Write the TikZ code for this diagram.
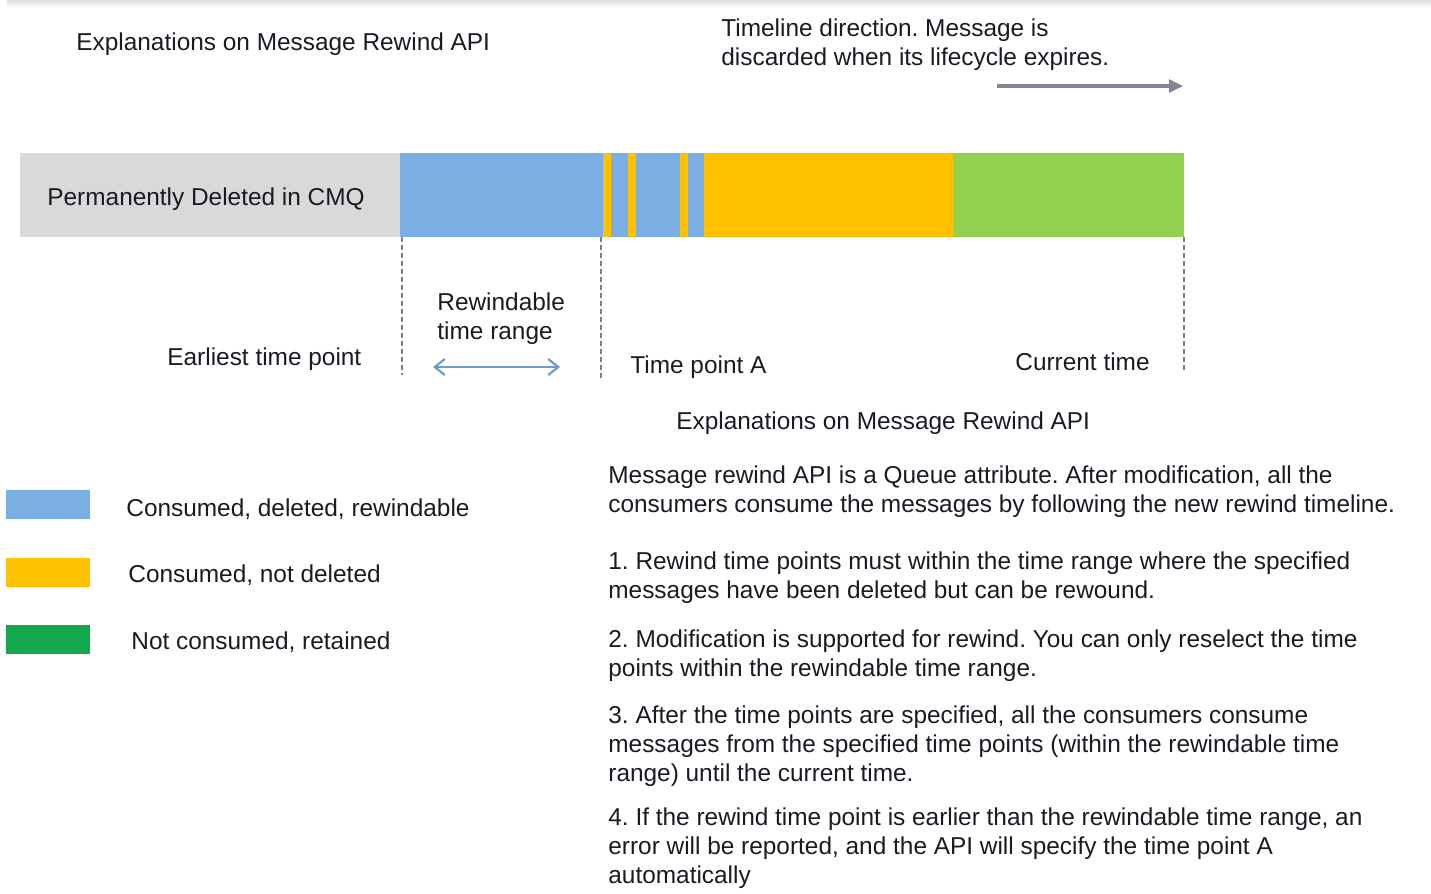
\documentclass[tikz,border=0pt]{standalone}
\usepackage{fontspec}
\setmainfont{Liberation Sans}
\usetikzlibrary{arrows.meta}
\frenchspacing

\definecolor{rwblue}{HTML}{7BAFE4}
\definecolor{rworange}{HTML}{FFC000}
\definecolor{rwgreen}{HTML}{92D050}
\definecolor{keepgreen}{HTML}{12A84B}
\definecolor{cmqgray}{HTML}{D9D9D9}
\definecolor{txt}{HTML}{1A1A24}
\definecolor{flowgray}{HTML}{8A8396}
\definecolor{rangeblue}{HTML}{6C9CCB}
\definecolor{dashgray}{HTML}{7F7F7F}

\tikzset{
    lbl/.style={anchor=base west, inner sep=0pt, text=txt, align=left,
        font=\fontsize{12.2}{14.35}\selectfont},
    marker/.style={draw=dashgray, line width=1.2pt, dash pattern=on 2.5pt off 1.5pt},
}

\begin{document}
\begin{tikzpicture}[x=0.5pt, y=-0.5pt]
    \useasboundingbox (0,0) rectangle (1431,894);
    \fill[top color=gray!25, bottom color=white] (7,0) rectangle (1431,8);

    % titles (multi-line nodes sit on their last baseline)
    \node [lbl] (title) at (76,50) {Explanations on Message Rewind API};
    \node [lbl] (timeline) at (721,65) {Timeline direction. Message is\\discarded when its lifecycle expires.};
    \coordinate (flowa) at (997,86);
    \coordinate (flowb) at (1183,86);
    \draw [flowgray, line width=1.6pt, -{Triangle[length=7pt, width=6.5pt]}] (flowa) -- (flowb);

    % the queue bar
    \fill [cmqgray] (20,153) rectangle (400,237);
    \fill [rwblue] (400,153) rectangle (704,237);
    \foreach \a/\b in {603/611, 628/636, 680/688}
        \fill [rworange] (\a,153) rectangle (\b,237);
    \fill [rworange] (704,153) rectangle (953,237);
    \fill [rwgreen] (953,153) rectangle (1184,237);
    \node [lbl] (deleted) at (47,205) {Permanently Deleted in CMQ};

    % time points
    \coordinate (earliest top) at (402,237);
    \coordinate (earliest bot) at (402,375);
    \coordinate (pointa top) at (601,237);
    \coordinate (pointa bot) at (601,378);
    \coordinate (current top) at (1184,237);
    \coordinate (current bot) at (1184,372);
    \draw [marker] (earliest top) -- (earliest bot);
    \draw [marker] (pointa top) -- (pointa bot);
    \draw [marker] (current top) -- (current bot);

    \node [lbl] (earliest) at (167,365) {Earliest time point};
    \node [lbl] (range) at (437,339) {Rewindable\\time range};
    \coordinate (rangea) at (433,367);
    \coordinate (rangeb) at (560,367);
    \draw [rangeblue, line width=1.1pt, {Straight Barb[length=5pt, width=8pt]}-{Straight Barb[length=5pt, width=8pt]}] (rangea) -- (rangeb);
    \node [lbl] (pointa) at (630,373) {Time point A};
    \node [lbl] (current) at (1015,370) {Current time};

    \node [lbl] (subtitle) at (676,429) {Explanations on Message Rewind API};

    % legend
    \fill [rwblue] (6,490) rectangle (90,519);
    \fill [rworange] (6,558) rectangle (90,587);
    \fill [keepgreen] (6,625) rectangle (90,654);
    \node [lbl] (leg1) at (126,516) {Consumed, deleted, rewindable};
    \node [lbl] (leg2) at (128,582) {Consumed, not deleted};
    \node [lbl] (leg3) at (131,649) {Not consumed, retained};

    % notes
    \node [lbl] (note0) at (608,512) {Message rewind API is a Queue attribute. After modification, all the\\consumers consume the messages by following the new rewind timeline.};
    \node [lbl] (note1) at (608,598) {1. Rewind time points must within the time range where the specified\\messages have been deleted but can be rewound.};
    \node [lbl] (note2) at (608,676) {2. Modification is supported for rewind. You can only reselect the time\\points within the rewindable time range.};
    \node [lbl] (note3) at (608,781) {3. After the time points are specified, all the consumers consume\\messages from the specified time points (within the rewindable time\\range) until the current time.};
    \node [lbl] (note4) at (608,883) {4. If the rewind time point is earlier than the rewindable time range, an\\error will be reported, and the API will specify the time point A\\automatically};

\end{tikzpicture}
\end{document}
